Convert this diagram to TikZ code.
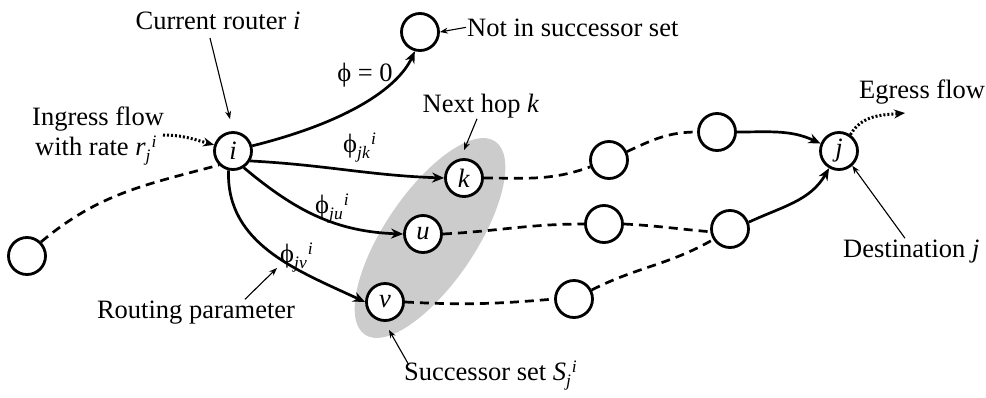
\documentclass[tikz,border=0pt]{standalone}
\usepackage{fontspec}
\setmainfont{Liberation Serif}
\usetikzlibrary{arrows.meta}
\newcommand\sbsp[2]{\raisebox{-6pt}{\fontsize{17.5}{18}\selectfont\textit{#1}}\raisebox{8pt}{\fontsize{17.5}{18}\selectfont\kern1pt\textit{#2}}}
\begin{document}
\begin{tikzpicture}[x=1pt,y=1pt,
 every node/.style={font=\fontsize{26.5}{30}\selectfont},
 vtx/.style={circle,draw,line width=2.8pt,fill=white,minimum size=37pt,inner sep=0pt},
 lbl/.style={inner sep=1pt},
 arr/.style={line width=2.7pt,-{Stealth[length=12pt,width=10pt]}},
 dsh/.style={line width=2.7pt,dash pattern=on 9pt off 6pt},
 dotarr/.style={line width=3pt,dash pattern=on 2pt off 2pt,-{Stealth[length=11pt,width=9pt]}},
 ptr/.style={line width=1.1pt,-{Stealth[length=8pt,width=6pt]}}]
\useasboundingbox (0,0) rectangle (986,-397);
\fill[black!20, rotate around={56:(430,-238)}] (430,-238) ellipse (116.5 and 45.6);
% vertices
\node[vtx] (i) at (233,-151) {\textit{i}};
\node[vtx] (n0) at (420,-32) {};
\node[vtx] (k) at (464,-178) {\textit{k}};
\node[vtx] (u) at (423,-234) {\textit{u}};
\node[vtx] (v) at (385,-302) {\textit{v}};
\node[vtx] (L) at (27,-256) {};
\node[vtx] (a1) at (609,-160) {};
\node[vtx] (a2) at (717,-132) {};
\node[vtx] (j) at (839,-151) {\textit{j}};
\node[vtx] (b1) at (604,-224) {};
\node[vtx] (b2) at (730,-229) {};
\node[vtx] (c1) at (574,-299) {};
% labels
\node[lbl,anchor=base] (cur) at (218,-29) {Current router \textit{i}};
\node[lbl,anchor=base west] (nis) at (466,-36) {Not in successor set};
\node[lbl,anchor=base] (p0) at (365,-81) {ϕ = 0};
\node[lbl,anchor=base] (nh) at (481,-112) {Next hop \textit{k}};
\node[lbl,anchor=base west] (pjk) at (342,-152) {ϕ\sbsp{jk}{i}};
\node[lbl,anchor=base west] (pju) at (314,-213) {ϕ\sbsp{ju}{i}};
\node[lbl,anchor=base west] (pjv) at (279,-262) {ϕ\sbsp{jv}{i}};
\node[lbl,anchor=base west] (ing1) at (31,-125) {Ingress flow};
\node[lbl,anchor=base west] (ing2) at (34,-155) {with rate \textit{r}\sbsp{j}{i}};
\node[lbl,anchor=base] (rp) at (196,-318) {Routing parameter};
\node[lbl,anchor=base west] (ss) at (403,-380) {Successor set \textit{S}\sbsp{j}{i}};
\node[lbl,anchor=base west] (eg) at (858,-98) {Egress flow};
\node[lbl,anchor=base west] (dest) at (842,-257) {Destination \textit{j}};
\coordinate (ingstart) at (163,-135);
\coordinate (egend) at (905,-113);
\coordinate (rpend) at (277,-268);
\coordinate (ssend) at (389,-330);
% solid arrows
\draw[arr] (i.15) to[out=14,in=-115,out distance=100pt,in distance=40pt] (n0.-105);
\draw[arr] (i.-30) to[out=-3,in=178] (k.west);
\draw[arr] (i.-57) to[out=-40,in=178] (u.west);
\draw[arr] (i.-103) to[out=-92,in=155] (v.west);
\draw[arr] (a2.east) to[out=0,in=155] (j.158);
\draw[arr] (b2.20) to[out=25,in=-120] (j.-120);
% dashed
\draw[dsh] (L.45) to[out=40,in=195] (i.-135);
\draw[dsh] (k.east) to[out=0,in=200] (a1.200);
\draw[dsh] (a1.25) to[out=25,in=180] (a2.west);
\draw[dsh] (u.east) to[out=3,in=180] (b1.west);
\draw[dsh] (b1.east) to[out=-3,in=175] (b2.188);
\draw[dsh] (v.east) to[out=-3,in=185] (c1.west);
\draw[dsh] (c1.27) to[out=27,in=210] (b2.212);
% dotted
\draw[dotarr] (ingstart) to[out=0,in=165] (i.162);
\draw[dotarr] (j.55) to[out=60,in=185] (egend);
% pointers
\draw[ptr] ([xshift=-8pt,yshift=-9pt]cur.base) -- ([xshift=-3pt,yshift=12pt]i.north);
\draw[ptr] (nis.west) -- (n0.east);
\draw[ptr] ([xshift=-4pt]nh.south) -- ([yshift=8pt]k.north);
\draw[ptr] ([xshift=49pt]rp.north) -- (rpend);
\draw[ptr] ([xshift=6pt,yshift=-6pt]ss.north west) -- (ssend);
\draw[ptr] ([xshift=63pt]dest.north west) -- (j.-48);
\end{tikzpicture}
\end{document}
